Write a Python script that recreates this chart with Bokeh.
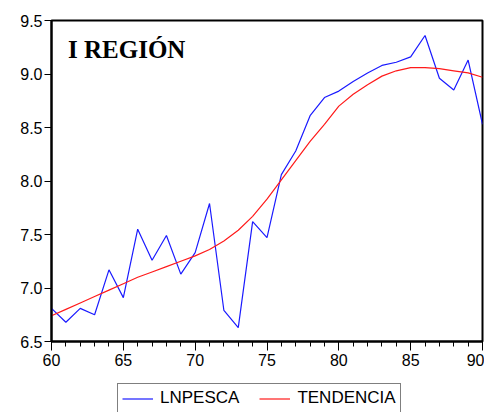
from bokeh.plotting import figure
from bokeh.layouts import column
from bokeh.models import Range1d, FixedTicker, Legend, LegendItem, Label, PrintfTickFormatter
from bokeh.embed import file_html
from bokeh.resources import INLINE

years = list(range(60, 91))
lnpesca = [6.81, 6.68, 6.81, 6.75, 7.17, 6.91, 7.55, 7.26, 7.49, 7.13,
           7.33, 7.79, 6.79, 6.63, 7.62, 7.47, 8.06, 8.28, 8.61, 8.78,
           8.84, 8.93, 9.01, 9.08, 9.11, 9.16, 9.36, 8.96, 8.85, 9.13, 8.53]
tendencia = [6.74, 6.80, 6.86, 6.92, 6.98, 7.04, 7.10, 7.15, 7.20, 7.25,
             7.30, 7.36, 7.44, 7.54, 7.67, 7.83, 8.01, 8.19, 8.37, 8.53,
             8.70, 8.81, 8.90, 8.98, 9.03, 9.06, 9.06, 9.05, 9.03, 9.01, 8.97]
x_major = [60, 65, 70, 75, 80, 85, 90]
y_major = [6.5, 7.0, 7.5, 8.0, 8.5, 9.0, 9.5]
title_text = "I REGIÓN"
series_names = ["LNPESCA", "TENDENCIA"]
series_colors = ["#1a1aff", "#ff1a1a"]

plot = figure(width=484, height=372, output_backend="svg", toolbar_location=None,
              x_range=Range1d(60, 90), y_range=Range1d(6.5, 9.5),
              min_border_left=51, min_border_right=2, min_border_top=20, min_border_bottom=31)
plot.background_fill_color = "white"
plot.border_fill_color = "white"
plot.outline_line_color = "black"
plot.outline_line_width = 2
plot.xgrid.visible = False
plot.ygrid.visible = False

for ax in (plot.xaxis[0], plot.yaxis[0]):
    ax.axis_line_width = 2
    ax.axis_line_color = "black"
    ax.major_tick_line_color = "black"
    ax.minor_tick_line_color = "black"
    ax.major_tick_in = 0
    ax.minor_tick_in = 0
    ax.major_label_text_font = "Liberation Sans"
    ax.major_label_text_font_size = "16px"
    ax.major_label_text_color = "black"

plot.xaxis.ticker = FixedTicker(ticks=x_major, minor_ticks=years)
plot.xaxis.major_tick_out = 9
plot.xaxis.minor_tick_out = 5
plot.xaxis.major_label_standoff = 3

plot.yaxis.ticker = FixedTicker(ticks=y_major, minor_ticks=[])
plot.yaxis.formatter = PrintfTickFormatter(format="%.1f")
plot.yaxis.major_tick_out = 7
plot.yaxis.minor_tick_out = 0
plot.yaxis.major_label_standoff = 2

plot.line(years, lnpesca, line_color=series_colors[0], line_width=1.2)
plot.line(years, tendencia, line_color=series_colors[1], line_width=1.2)

plot.add_layout(Label(x=61.15, y=9.23, text=title_text, text_font="Liberation Serif",
                      text_font_style="bold", text_font_size="25px", text_color="black",
                      text_baseline="alphabetic"))

# legend strip below the chart (its lines lie outside this strip's ranges)
leg_fig = figure(width=484, height=40, output_backend="svg", toolbar_location=None,
                 x_range=Range1d(0, 1), y_range=Range1d(0, 1),
                 x_axis_location=None, y_axis_location=None, min_border=0)
leg_fig.outline_line_color = None
leg_fig.xgrid.visible = False
leg_fig.ygrid.visible = False
leg_fig.background_fill_color = "white"
leg_fig.border_fill_color = "white"
k1 = leg_fig.line(years, lnpesca, line_color=series_colors[0], line_width=1.2)
k2 = leg_fig.line(years, tendencia, line_color=series_colors[1], line_width=1.2)

legend = Legend(items=[LegendItem(label=series_names[0], renderers=[k1]),
                       LegendItem(label=series_names[1], renderers=[k2])],
                orientation="horizontal", location=(66, -1))
legend.label_text_font = "Liberation Sans"
legend.label_text_font_size = "17px"
legend.label_text_color = "black"
legend.glyph_width = 31
legend.glyph_height = 17
legend.label_height = 17
legend.label_standoff = 7
legend.spacing = 20
legend.padding = 4
legend.margin = 0
legend.border_line_color = "black"
legend.border_line_width = 1
legend.background_fill_alpha = 1
leg_fig.add_layout(legend, "center")

p = column(plot, leg_fig, spacing=0)

open("out.html", "w").write(file_html(p, INLINE))
